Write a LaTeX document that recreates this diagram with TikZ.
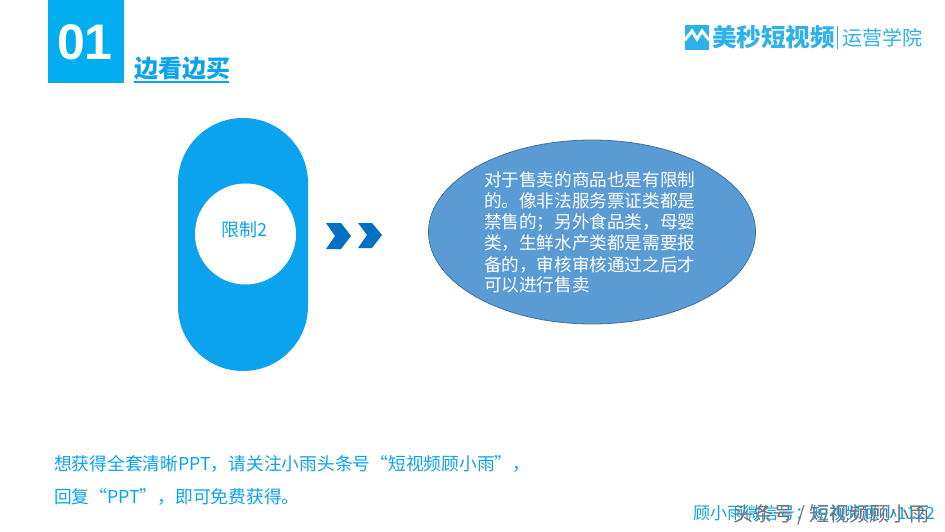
\documentclass[tikz,border=0pt]{standalone}
\usetikzlibrary{shapes.geometric}
\usepackage{fontspec}
\setmainfont{Liberation Sans}
\newfontfamily\cjk{Noto Sans CJK SC}
\definecolor{topblue}{HTML}{00AEEF}
\definecolor{pill}{HTML}{0BA2EE}
\definecolor{chev}{HTML}{0070C0}
\definecolor{ell}{HTML}{5B9BD5}
\definecolor{ellb}{HTML}{41719C}
\definecolor{logob}{HTML}{2EB1E8}
\tikzset{
  x=1pt,y=-1pt,
  lbl/.style={inner sep=0pt,outer sep=0pt,anchor=west},
  chevron/.style={fill=chev,draw=none},
}
\begin{document}
\begin{tikzpicture}
\useasboundingbox (0,0) rectangle (945,532);
\fill[white] (0,0) rectangle (945,532);
% number tab
\node[fill=topblue,minimum width=76pt,minimum height=83pt,inner sep=0pt,anchor=north west] (tab) at (48,0) {};
\node[lbl,text=white,font=\fontsize{50}{50}\selectfont\bfseries] (num) at (57,42) {01};
\node[lbl,text=pill,font=\cjk\fontsize{24}{24}\selectfont\bfseries] (title) at (134,69) {边看边买};
\fill[pill] (134,81) rectangle (229,83);
% logo
\fill[logob] (685,25) rectangle (709,50);
\draw[white,line width=3pt,line join=miter] (685,40) -- (692,31) -- (697,39) -- (702,31) -- (709,40);
\node[lbl,text=logob,font=\cjk\fontsize{24.6}{24.6}\selectfont\bfseries] (logoa) at (712,37) {美秒短视频};
\fill[logob] (837,26) rectangle (838.4,49);
\node[lbl,text=logob,font=\cjk\fontsize{20}{20}\selectfont] (logob) at (842,38) {运营学院};
% pill
\node[fill=pill,minimum width=130pt,minimum height=253pt,inner sep=0pt,rounded corners=64.9pt] (pillbox) at (243,244.5) {};
\node[circle,fill=white,minimum size=101pt,inner sep=0pt] (inner) at (245.5,234) {};
\node[text=pill,inner sep=0pt,font=\cjk\fontsize{18}{18}\selectfont] (lim) at (244.5,230) {限制2};
% chevrons
\fill[chevron] (326,223) -- (341,223) -- (351,236) -- (341,249) -- (326,249) -- (335,236) -- cycle;
\fill[chevron] (358,223) -- (372,223) -- (382,235) -- (372,248) -- (358,248) -- (367,235) -- cycle;
% ellipse
\node[ellipse,draw=ellb,line width=0.8pt,fill=ell,minimum width=327pt,minimum height=184pt,inner sep=0pt] (oval) at (592,232) {};
\begin{scope}[every node/.style={lbl,text=white,font=\cjk\fontsize{17.6}{17.6}\selectfont}]
\node (l1) at (484,180) {对于售卖的商品也是有限制};
\node (l2) at (484,201) {的。像非法服务票证类都是};
\node (l3) at (484,222) {禁售的；另外食品类，母婴};
\node (l4) at (484,243) {类，生鲜水产类都是需要报};
\node (l5) at (484,265) {备的，审核审核通过之后才};
\node (l6) at (484,285) {可以进行售卖};
\end{scope}
% footer
\node[lbl,text=pill,font=\cjk\fontsize{17.75}{17.75}\selectfont] (f1) at (54,464) {想获得全套清晰PPT，请关注小雨头条号“短视频顾小雨”，};
\node[lbl,text=pill,font=\cjk\fontsize{17.75}{17.75}\selectfont] (f2) at (54,497) {回复“PPT”，即可免费获得。};
\node[lbl,text=pill,font=\cjk\fontsize{17}{17}\selectfont] (w1) at (693,513) {顾小雨微信号：短视频顾小1122};
\node[lbl,text=black!55,font=\cjk\fontsize{20}{20}\selectfont] (w2) at (733,515) {头条号 / 短视频顾小雨};
\end{tikzpicture}
\end{document}
